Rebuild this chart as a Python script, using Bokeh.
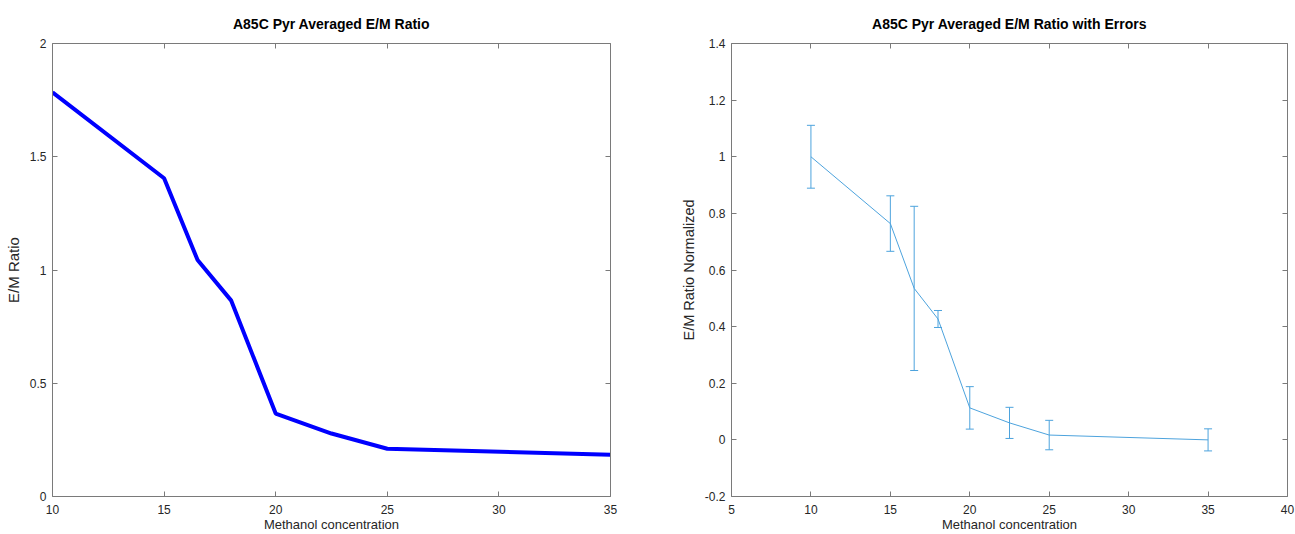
from bokeh.plotting import figure
from bokeh.layouts import row
from bokeh.models import (LinearAxis, Range1d, ColumnDataSource, Whisker, FixedTicker,
                          TeeHead, CustomJSTickFormatter, CustomLabelingPolicy)
from bokeh.embed import file_html
from bokeh.resources import INLINE

# Left chart data
conc = [10, 15, 16.5, 18, 20, 22.5, 25, 35]
em_ratio = [1.784, 1.405, 1.044, 0.866, 0.366, 0.278, 0.211, 0.184]

# Right chart data
em_norm = [1.0, 0.764, 0.535, 0.427, 0.113, 0.060, 0.017, 0.0]
em_err = [0.111, 0.098, 0.290, 0.030, 0.075, 0.055, 0.052, 0.039]

left_ticks_x = [10, 15, 20, 25, 30, 35]
left_ticks_y = [0, 0.5, 1, 1.5, 2]
right_ticks_x = [5, 10, 15, 20, 25, 30, 35, 40]
right_ticks_y = [-0.2, 0, 0.2, 0.4, 0.6, 0.8, 1, 1.2, 1.4]

FONT = "Liberation Sans"
TXT = "#262626"
AX = "#7a7a7a"

fmt_code = "return String(parseFloat(tick.toFixed(2)));"


def style_axis(ax, ticks, show_labels=True):
    ax.ticker = FixedTicker(ticks=ticks)
    ax.axis_line_color = AX
    ax.major_tick_line_color = AX
    ax.major_tick_in = 5
    ax.major_tick_out = 0
    ax.minor_tick_line_color = None
    ax.major_label_text_font = FONT
    ax.major_label_text_color = TXT
    ax.axis_label_text_font = FONT
    ax.axis_label_text_font_style = "normal"
    ax.axis_label_text_color = TXT
    if show_labels:
        ax.formatter = CustomJSTickFormatter(code=fmt_code)
        ax.major_label_text_font_size = "12px"
        ax.major_label_standoff = 6
    else:
        ax.major_label_text_font_size = "0px"
        ax.major_label_standoff = 0
        ax.major_label_policy = CustomLabelingPolicy(
            code="const all = [...indices]; for (const i of all) { indices.unset(i) } return indices;")


def make_fig(title, xr, yr, w, bl, br, xt, yt, ylabel, ylabel_size):
    p = figure(width=w, height=534, x_range=Range1d(*xr), y_range=Range1d(*yr),
               output_backend="svg", toolbar_location=None,
               min_border_left=bl, min_border_right=br,
               min_border_top=43, min_border_bottom=37)
    p.title.text = title
    p.title.align = "center"
    p.title.text_font = FONT
    p.title.text_font_size = "14px"
    p.title.text_font_style = "bold"
    p.title.text_color = "#000000"
    p.title.offset = 0
    p.title.standoff = 24
    p.grid.visible = False
    p.outline_line_color = None
    p.background_fill_color = "white"
    p.border_fill_color = "white"
    p.xaxis.axis_label = "Methanol concentration"
    p.yaxis.axis_label = ylabel
    style_axis(p.xaxis[0], xt)
    style_axis(p.yaxis[0], yt)
    p.xaxis[0].major_label_standoff = 8
    p.xaxis[0].axis_label_standoff = 0
    p.xaxis[0].axis_label_text_font_size = "13px"
    p.yaxis[0].axis_label_standoff = 5
    p.yaxis[0].axis_label_text_font_size = ylabel_size
    top = LinearAxis()
    right = LinearAxis()
    style_axis(top, xt, False)
    style_axis(right, yt, False)
    p.add_layout(top, "above")
    p.add_layout(right, "right")
    return p


p1 = make_fig("A85C Pyr Averaged E/M Ratio", (10, 35), (0, 2), 650, 52, 40,
              left_ticks_x, left_ticks_y, "E/M Ratio", "15px")
p1.line(conc, em_ratio, line_color="#0000ff", line_width=4)

p2 = make_fig("A85C Pyr Averaged E/M Ratio with Errors", (5, 40), (-0.2, 1.4), 645, 81, 8,
              right_ticks_x, right_ticks_y, "E/M Ratio Normalized", "14.5px")
upper = [v + e for v, e in zip(em_norm, em_err)]
lower = [v - e for v, e in zip(em_norm, em_err)]
src = ColumnDataSource(dict(x=conc, y=em_norm, upper=upper, lower=lower))
p2.line("x", "y", source=src, line_color="#4da3dd", line_width=1)
wh = Whisker(base="x", upper="upper", lower="lower", source=src,
             line_color="#4da3dd", line_width=1,
             upper_head=TeeHead(size=8, line_color="#4da3dd", line_width=1),
             lower_head=TeeHead(size=8, line_color="#4da3dd", line_width=1))
p2.add_layout(wh)

layout = row(p1, p2)
open("out.html", "w").write(file_html(layout, INLINE))
